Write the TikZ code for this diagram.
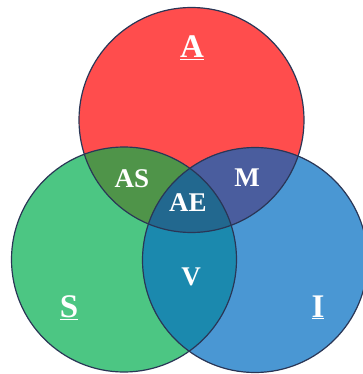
\documentclass[tikz,border=0pt]{standalone}
\usepackage{fontspec}
\setmainfont{Liberation Serif}

\definecolor{setA}{HTML}{FF4D4D}
\definecolor{setS}{HTML}{4CC683}
\definecolor{setI}{HTML}{4A97D3}
\definecolor{setAS}{HTML}{4F9449}
\definecolor{setM}{HTML}{4A5D9E}
\definecolor{setV}{HTML}{1B89AE}
\definecolor{setAE}{HTML}{22688F}
\definecolor{rimcol}{HTML}{2A3656}

\begin{document}
\begin{tikzpicture}[x=1pt,y=-1pt,
  set/.style={circle,minimum size=225pt,inner sep=0pt},
  rim/.style={draw=rimcol,line width=1.2pt},
  big/.style={anchor=base,text=white,font=\fontsize{33}{33}\selectfont\bfseries},
  small/.style={anchor=base,text=white,font=\fontsize{27}{27}\selectfont\bfseries}]
\useasboundingbox (0,0) rectangle (363,374);

\node[set,fill=setA] (A) at (191.5,120){};
\node[set,fill=setS] (S) at (124,259.5){};
\node[set,fill=setI] (I) at (255,260){};

% two-set overlaps
\begin{scope}
\clip (A.center) circle (112.5pt);
\fill[setAS] (S.center) circle (112.5pt);
\fill[setM] (I.center) circle (112.5pt);
\end{scope}
\begin{scope}
\clip (S.center) circle (112.5pt);
\fill[setV] (I.center) circle (112.5pt);
\clip (A.center) circle (112.5pt);
\fill[setAE] (I.center) circle (112.5pt);
\end{scope}

\draw[rim] (A.center) circle (112.5pt);
\draw[rim] (S.center) circle (112.5pt);
\draw[rim] (I.center) circle (112.5pt);

\node[big] (labA) at (192,58) {\underline{A}};
\node[big] (labS) at (69,317) {\underline{S}};
\node[big] (labI) at (318,317) {\underline{I}};

\node[small] (labAS) at (132,187) {AS};
\node[small] (labM) at (247,186) {M};
\node[small] (labAE) at (188,211) {AE};
\node[small] (labV) at (191,285) {V};
\end{tikzpicture}
\end{document}
